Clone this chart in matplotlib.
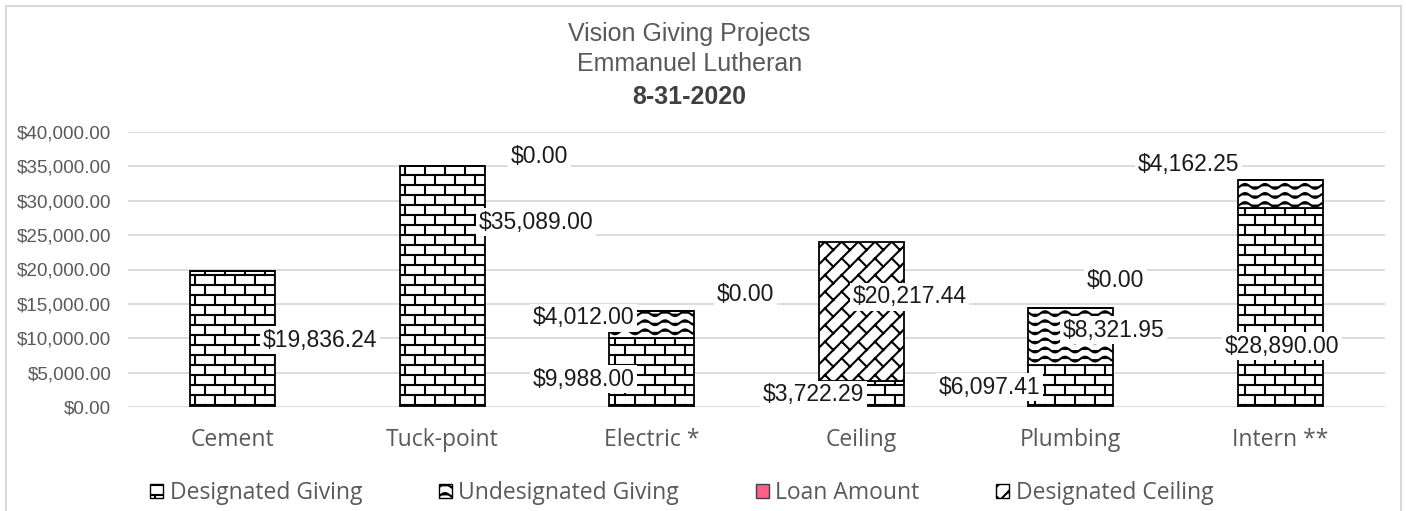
import warnings
import numpy as np
import matplotlib
matplotlib.use("Agg")
import matplotlib.pyplot as plt
from matplotlib import hatch as mhatch
from matplotlib.path import Path
from matplotlib.patches import Patch, Rectangle

warnings.filterwarnings("ignore")

categories = ["Cement", "Tuck-point", "Electric *", "Ceiling", "Plumbing", "Intern **"]
designated = [19836.24, 35089.00, 9988.00, 3722.29, 6097.41, 28890.00]
undesignated = [0.00, 0.00, 4012.00, 0.00, 8321.95, 4162.25]
loan = [0.00, 0.00, 0.00, 0.00, 0.00, 0.00]
ceiling = [0.00, 0.00, 0.00, 20217.44, 0.00, 0.00]

# which data labels are shown: (series, category index, x offset, y value)
label_spots = [
    ("designated", 0, 0.415, 9745),
    ("designated", 1, 0.446, 26900),
    ("loan", 1, 0.465, 36500),
    ("designated", 2, -0.325, 4070),
    ("undesignated", 2, -0.325, 12950),
    ("loan", 2, 0.447, 16430),
    ("designated", 3, -0.228, 1750),
    ("ceiling", 3, 0.230, 16000),
    ("designated", 4, -0.386, 2900),
    ("undesignated", 4, 0.205, 11200),
    ("loan", 4, 0.215, 18330),
    ("undesignated", 5, -0.439, 35200),
    ("designated", 5, 0.010, 8870),
]


# --- custom hatch patterns (brick, wave, diagonal brick) ---
class PolylineHatch(mhatch.HatchPatternBase):
    char = None

    def __init__(self, hatch, density):
        self.lines = self.make_lines() if self.char in hatch else []
        self.num_vertices = sum(len(l) for l in self.lines)

    def make_lines(self):
        return []

    def set_vertices_and_codes(self, vertices, codes):
        i = 0
        for line in self.lines:
            n = len(line)
            vertices[i:i + n] = line
            codes[i] = Path.MOVETO
            codes[i + 1:i + n] = Path.LINETO
            i += n


class BrickHatch(PolylineHatch):
    char = "B"

    def make_lines(self):
        rows, cols = 10, 5
        lines = []
        for r in range(-1, rows + 1):
            y0 = (r + 0.5) / rows
            lines.append([(-0.1, y0), (1.1, y0)])
            shift = 0.5 * (r % 2)
            for c in range(-1, cols + 1):
                x = (c + shift + 0.25) / cols
                lines.append([(x, y0), (x, y0 + 1 / rows)])
        return lines


class WaveHatch(PolylineHatch):
    char = "W"

    def make_lines(self):
        rows, periods = 11, 5
        x = np.linspace(0, 1, 101)
        lines = []
        for r in range(rows):
            y = (r + 0.5) / rows + 0.024 * np.sin(2 * np.pi * periods * x)
            lines.append(np.column_stack([x, y]))
        return lines


class DiagBrickHatch(PolylineHatch):
    char = "D"

    def make_lines(self):
        n, m = 6, 6
        lines = []
        for k in range(-n, n + 1):
            c = k / n
            lines.append([(-1, -1 + c), (2, 2 + c)])
            if k == n:
                continue
            for j in range(-2 * m, 3 * m):
                t = j / m + (k % 2) / (2 * m) - k / (2 * n)
                lines.append([(t, t + c), (t - 1 / (2 * n), t + c + 1 / (2 * n))])
        return lines


mhatch._hatch_types.extend([BrickHatch, WaveHatch, DiagBrickHatch])

plt.rcParams["hatch.linewidth"] = 1.5

fig = plt.figure(figsize=(14.06, 5.11), dpi=100)
ax = fig.add_axes([128 / 1406, 104 / 511, 1257 / 1406, 275 / 511])

x = np.arange(len(categories))
width = 0.405
bottom1 = np.array(designated)
bottom2 = bottom1 + np.array(undesignated)
bottom3 = bottom2 + np.array(loan)

ax.bar(x, designated, width, color="white", edgecolor="black", hatch="B", lw=1.3, zorder=2)
ax.bar(x, undesignated, width, bottom=bottom1, color="white", edgecolor="black", hatch="W", lw=1.3, zorder=2)
ax.bar(x, loan, width, bottom=bottom2, color="#ff5f87", lw=0, zorder=2)
ax.bar(x, ceiling, width, bottom=bottom3, color="white", edgecolor="black", hatch="D", lw=1.3, zorder=2)

series = {"designated": designated, "undesignated": undesignated, "loan": loan, "ceiling": ceiling}
for name, i, dx, yv in label_spots:
    ax.text(i + dx, yv, "${:,.2f}".format(series[name][i]), ha="center", va="center",
            fontsize=16.5, family="Liberation Sans", color="#1a1a1a", zorder=5,
            bbox=dict(facecolor="white", edgecolor="none", pad=2))

ax.set_xlim(-0.5, len(categories) - 0.5)
ax.set_ylim(0, 40000)
ax.set_yticks(np.arange(0, 40001, 5000))
ax.set_yticklabels(["${:,.2f}".format(v) for v in np.arange(0, 40001, 5000)],
                   family="Liberation Sans", fontsize=13.6, color="#595959")
ax.set_xticks(x)
ax.set_xticklabels(categories, family="Open Sans", fontsize=16.5, color="#595959")
ax.tick_params(axis="y", length=0, pad=12)
ax.tick_params(axis="x", length=0, pad=15)
for s in ax.spines.values():
    s.set_visible(False)
ax.grid(axis="y", color="#d9d9d9", lw=1.3, zorder=0)
ax.set_axisbelow(True)

fig.text(0.4904, 1 - 34 / 511, "Vision Giving Projects", ha="center", va="center",
         family="Liberation Sans", fontsize=18, color="#595959")
fig.text(0.4904, 1 - 64 / 511, "Emmanuel Lutheran", ha="center", va="center",
         family="Liberation Sans", fontsize=18, color="#595959")
fig.text(0.4904, 1 - 97 / 511, "8-31-2020", ha="center", va="center",
         family="Liberation Sans", fontsize=18, fontweight="bold", color="#404040")

handles = [
    Patch(facecolor="white", edgecolor="black", hatch="B", label="Designated Giving"),
    Patch(facecolor="white", edgecolor="black", hatch="W", label="Undesignated Giving"),
    Patch(facecolor="#ff5f87", edgecolor="#404040", label="Loan Amount"),
    Patch(facecolor="white", edgecolor="black", hatch="D", label="Designated Ceiling"),
]
leg = fig.legend(handles=handles, loc="center", bbox_to_anchor=(0.485, 1 - 493 / 511), ncol=4,
                 frameon=False, prop={"family": "Open Sans", "size": 16.5},
                 handlelength=0.55, handleheight=0.55, handletextpad=0.3, columnspacing=3.35)
for t in leg.get_texts():
    t.set_color("#595959")

fig.add_artist(Rectangle((6 / 1406, -0.1), 1395 / 1406, 1.1 - 6 / 511, transform=fig.transFigure,
                         fill=False, edgecolor="#d9d9d9", lw=1.5))

fig.savefig("out.png", dpi=100)
